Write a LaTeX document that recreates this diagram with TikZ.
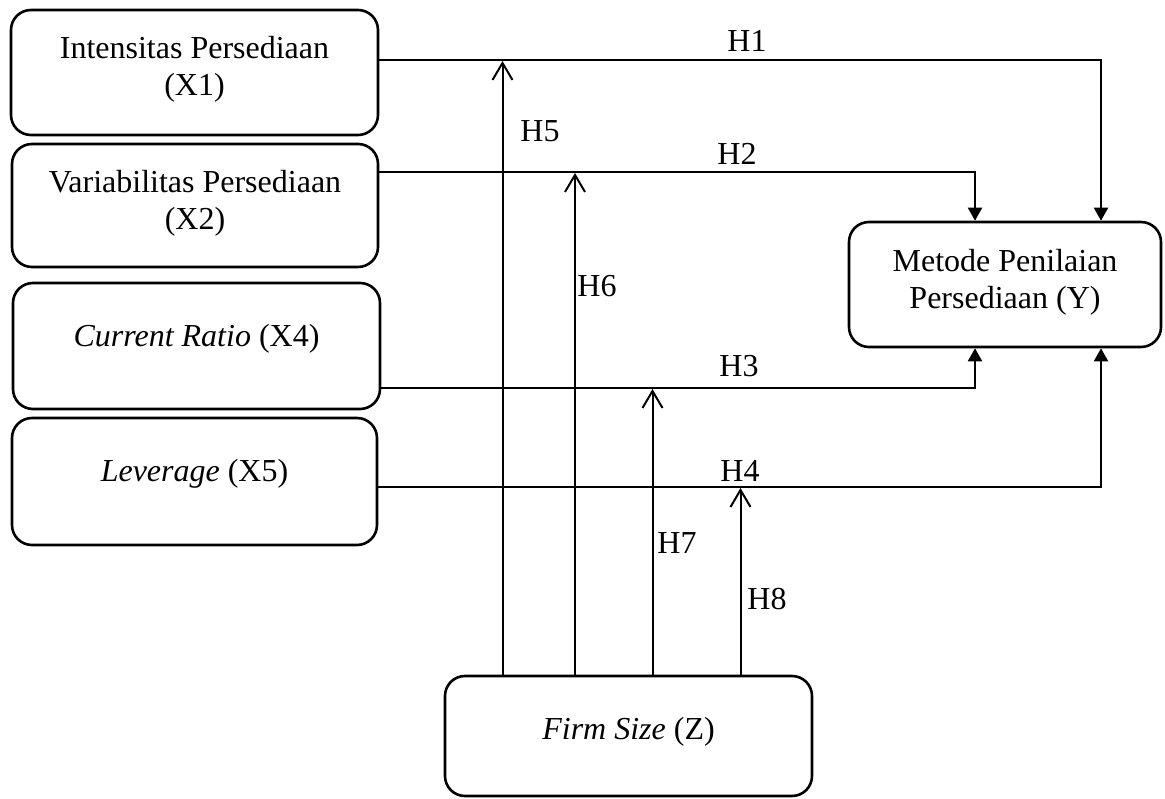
\documentclass[tikz,border=0pt]{standalone}
\usepackage{fontspec}
\setmainfont{Liberation Serif}
\usetikzlibrary{arrows.meta,calc}
\begin{document}
\begin{tikzpicture}[x=1pt,y=-1pt,
  box/.style={draw,line width=2.6pt,rounded corners=20pt,inner sep=0pt},
  txt/.style={font=\fontsize{32}{37}\selectfont,inner sep=0pt,align=center},
  hlbl/.style={font=\fontsize{32}{37}\selectfont,inner sep=0pt},
  conn/.style={line width=2pt},
  cause/.style={conn,-{Triangle[width=14pt,length=13pt]}},
  moder/.style={conn,-{Straight Barb[width=20pt,length=17pt]}}]
\useasboundingbox (0,0) rectangle (1165,799);

% boxes
\node[box,minimum width=367pt,minimum height=125pt] (x1) at (194.5,72.5) {};
\node[box,minimum width=366pt,minimum height=123pt] (x2) at (195,205.5) {};
\node[box,minimum width=367pt,minimum height=126pt] (x4) at (196.5,346) {};
\node[box,minimum width=365pt,minimum height=127pt] (x5) at (194.5,481.5) {};
\node[box,minimum width=312pt,minimum height=125pt] (y) at (1005,284.5) {};
\node[box,minimum width=367pt,minimum height=120pt] (z) at (628.5,736) {};

% texts
\node[txt,anchor=north] (tx1) at ($(x1.north)+(0,27)$) {Intensitas Persediaan\\(X1)};
\node[txt,anchor=north] (tx2) at ($(x2.north)+(0,27)$) {Variabilitas Persediaan\\(X2)};
\node[txt,anchor=base] (tx4) at ($(x4.north)+(0,65)$) {\textit{Current Ratio} (X4)};
\node[txt,anchor=base] (tx5) at ($(x5.north)+(0,65)$) {\textit{Leverage} (X5)};
\node[txt,anchor=north] (ty) at ($(y.north)+(0,28)$) {Metode Penilaian\\Persediaan (Y)};
\node[txt,anchor=base] (tz) at ($(z.north)+(0,65)$) {\textit{Firm Size} (Z)};

% direct effects
\draw[cause] (x1.east |- 0,60) -| (y.north -| 1101,0);
\draw[cause] (x2.east |- 0,172) -| (y.north -| 975,0);
\draw[cause] (x4.east |- 0,388) -| (y.south -| 975,0);
\draw[cause] (x5.east |- 0,487) -| (y.south -| 1101,0);

% moderating effects
\coordinate (m5) at (502.5,61);
\coordinate (m6) at (575,173);
\coordinate (m7) at (652.5,389);
\coordinate (m8) at (740.5,488);
\draw[moder] (z.north -| m5) -- (m5);
\draw[moder] (z.north -| m6) -- (m6);
\draw[moder] (z.north -| m7) -- (m7);
\draw[moder] (z.north -| m8) -- (m8);

% labels
\node[hlbl] (h1) at (747,41) {H1};
\node[hlbl] (h2) at (737,154) {H2};
\node[hlbl] (h3) at (739,366) {H3};
\node[hlbl] (h4) at (740,471) {H4};
\node[hlbl] (h5) at (540,131) {H5};
\node[hlbl] (h6) at (597,286) {H6};
\node[hlbl] (h7) at (677,543) {H7};
\node[hlbl] (h8) at (767,599) {H8};
\end{tikzpicture}
\end{document}
